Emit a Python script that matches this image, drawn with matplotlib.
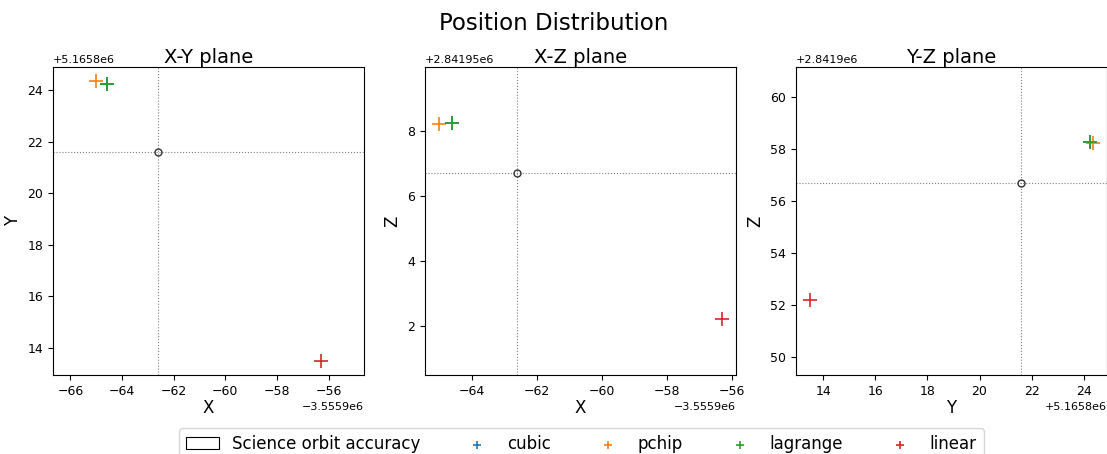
import numpy as np
import matplotlib
matplotlib.use('Agg')
import matplotlib.pyplot as plt
from matplotlib.patches import Rectangle

# interpolated positions per method (metres)
methods = ['cubic', 'pchip', 'lagrange', 'linear']
colors = ['C0', 'C1', 'C2', 'C3']
x_vals = [-3555964.6, -3555965.0, -3555964.6, -3555956.3]
y_vals = [5165824.25, 5165824.35, 5165824.25, 5165813.5]
z_vals = [2841958.25, 2841958.2, 2841958.25, 2841952.2]

# science orbit reference position
truth_x = -3555962.6
truth_y = 5165821.6
truth_z = 2841956.7

planes = [
    ('X-Y plane', 'X', 'Y', x_vals, y_vals, truth_x, truth_y),
    ('X-Z plane', 'X', 'Z', x_vals, z_vals, truth_x, truth_z),
    ('Y-Z plane', 'Y', 'Z', y_vals, z_vals, truth_y, truth_z),
]

W, H = 1107, 454
fig = plt.figure(figsize=(W / 100, H / 100), dpi=100)
fig.suptitle('Position Distribution', fontsize=16.5, y=1 - 12 / H, va='top')

lefts = [53, 425, 796]
for (title, xl, yl, xs, ys, tx, ty), left in zip(planes, lefts):
    ax = fig.add_axes([left / W, 1 - 375 / H, 311 / W, 308 / H])
    ax.axhline(ty, color='gray', ls=':', lw=0.8)
    ax.axvline(tx, color='gray', ls=':', lw=0.8)
    ax.plot(tx, ty, 'o', mfc='none', mec='#333333', ms=5, mew=1)
    for m, c, a, b in zip(methods, colors, xs, ys):
        ax.scatter(a, b, marker='+', s=100, color=c, label=m, linewidths=1.2)
    ax.set_aspect('equal', adjustable='datalim')
    ax.set_title(title, fontsize=14, pad=2)
    ax.set_xlabel(xl, fontsize=12, labelpad=1)
    ax.set_ylabel(yl, fontsize=12)
    ax.tick_params(labelsize=9)
    ax.xaxis.get_offset_text().set_fontsize(8)
    ax.yaxis.get_offset_text().set_fontsize(8)

handles, labels = ax.get_legend_handles_labels()
box = Rectangle((0, 0), 1, 1, fill=False, edgecolor='black', lw=0.8)
fig.legend([box] + handles, ['Science orbit accuracy'] + labels,
           loc='upper center', bbox_to_anchor=(0.525, 1 - 420 / H),
           ncol=5, fontsize=12, columnspacing=2.4, handlelength=2,
           markerscale=0.6)

fig.savefig('out.png', dpi=100)
